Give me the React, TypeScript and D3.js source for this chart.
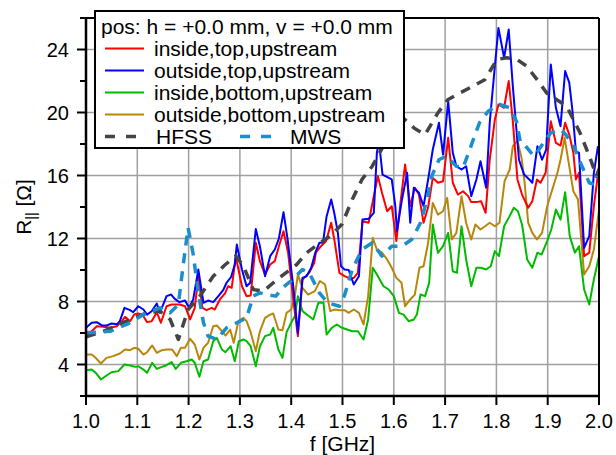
import React from 'react';
import * as d3 from 'd3';

const W = 616;
const H = 455;
const M = { left: 86, right: 17, top: 18, bottom: 59 };

const xTicks = [1.0, 1.1, 1.2, 1.3, 1.4, 1.5, 1.6, 1.7, 1.8, 1.9, 2.0];
const yMajor = [4, 8, 12, 16, 20, 24];
const yMinor = [2, 6, 10, 14, 18, 22, 26];

type P = [number, number];

const insideTop: P[] = [
  [1.000, 5.76], [1.011, 6.11], [1.021, 6.43], [1.034, 6.39], [1.047, 6.33], [1.060, 6.43], [1.070, 6.75],
  [1.076, 7.03], [1.086, 6.75], [1.094, 7.17], [1.102, 7.24], [1.112, 7.07], [1.119, 6.69], [1.128, 6.75],
  [1.138, 7.32], [1.146, 6.65], [1.157, 7.70], [1.167, 7.81], [1.183, 7.81], [1.193, 7.70], [1.203, 6.86],
  [1.212, 7.60], [1.219, 9.61], [1.227, 7.60], [1.235, 7.45], [1.245, 7.60], [1.251, 7.49], [1.261, 8.13],
  [1.271, 8.51], [1.277, 8.97], [1.284, 8.87], [1.292, 10.84], [1.304, 8.97], [1.313, 8.34], [1.321, 8.38],
  [1.331, 11.73], [1.339, 10.56], [1.349, 9.71], [1.359, 10.35], [1.368, 10.56], [1.376, 11.51], [1.385, 12.46],
  [1.394, 11.10], [1.404, 8.13], [1.413, 5.80], [1.422, 9.40], [1.435, 9.82], [1.445, 10.45], [1.448, 11.10],
  [1.458, 11.51], [1.468, 11.84], [1.478, 13.00], [1.484, 11.94], [1.494, 9.82], [1.504, 9.61], [1.512, 9.50],
  [1.522, 9.50], [1.530, 9.82], [1.539, 13.10], [1.551, 13.00], [1.561, 14.69], [1.569, 15.96], [1.577, 14.90],
  [1.587, 13.73], [1.596, 14.05], [1.605, 11.84], [1.613, 14.26], [1.622, 16.70], [1.632, 14.05], [1.641, 15.22],
  [1.649, 14.79], [1.658, 13.00], [1.667, 14.00], [1.676, 15.85], [1.686, 15.54], [1.696, 15.64], [1.706, 18.39],
  [1.715, 15.54], [1.725, 14.79], [1.735, 15.00], [1.745, 14.69], [1.751, 14.31], [1.761, 14.31], [1.770, 14.37],
  [1.779, 13.63], [1.787, 17.00], [1.797, 19.56], [1.804, 20.51], [1.815, 20.30], [1.824, 22.00], [1.832, 19.45],
  [1.841, 15.75], [1.850, 14.79], [1.862, 13.95], [1.870, 14.37], [1.879, 15.75], [1.886, 15.54], [1.896, 16.17],
  [1.906, 19.45], [1.916, 18.07], [1.925, 17.90], [1.934, 19.35], [1.942, 18.60], [1.950, 17.44], [1.955, 15.75],
  [1.961, 16.17], [1.971, 10.88], [1.981, 11.10], [1.990, 14.05], [2.000, 16.59],
];

const outsideTop: P[] = [
  [1.000, 6.33], [1.011, 6.65], [1.021, 6.69], [1.031, 6.48], [1.040, 6.48], [1.050, 6.60], [1.060, 6.55],
  [1.066, 6.75], [1.075, 7.60], [1.086, 7.45], [1.092, 7.32], [1.102, 7.70], [1.112, 7.49], [1.119, 7.17],
  [1.128, 7.38], [1.138, 7.87], [1.144, 7.28], [1.157, 8.34], [1.166, 8.44], [1.173, 8.17], [1.182, 7.96],
  [1.193, 8.06], [1.201, 7.60], [1.209, 8.13], [1.219, 10.03], [1.229, 7.92], [1.238, 8.06], [1.248, 7.96],
  [1.258, 8.34], [1.268, 8.76], [1.274, 9.19], [1.283, 9.57], [1.290, 10.35], [1.294, 11.62], [1.304, 10.03],
  [1.313, 8.97], [1.320, 9.19], [1.331, 12.60], [1.339, 11.51], [1.349, 9.61], [1.359, 10.88], [1.368, 11.30],
  [1.376, 12.00], [1.385, 13.67], [1.393, 11.94], [1.404, 8.97], [1.413, 6.00], [1.422, 9.50], [1.430, 9.60],
  [1.439, 10.14], [1.447, 11.10], [1.455, 11.73], [1.462, 11.75], [1.469, 13.40], [1.478, 14.48], [1.484, 13.60],
  [1.491, 12.36], [1.497, 10.24], [1.504, 10.03], [1.512, 10.00], [1.522, 9.08], [1.532, 9.60], [1.539, 13.20],
  [1.551, 13.25], [1.561, 13.63], [1.567, 17.44], [1.571, 18.20], [1.578, 16.06], [1.596, 15.75], [1.603, 14.05],
  [1.606, 12.46], [1.616, 14.48], [1.626, 16.17], [1.632, 13.00], [1.639, 15.22], [1.649, 14.90], [1.658, 14.05],
  [1.668, 15.96], [1.676, 17.65], [1.688, 19.35], [1.696, 17.33], [1.706, 20.72], [1.715, 17.44], [1.722, 16.59],
  [1.732, 16.38], [1.741, 16.59], [1.751, 14.69], [1.761, 15.75], [1.769, 16.91], [1.780, 15.22], [1.787, 19.35],
  [1.797, 22.94], [1.804, 25.37], [1.815, 23.47], [1.824, 25.27], [1.832, 21.67], [1.839, 18.92], [1.844, 17.00],
  [1.854, 16.06], [1.864, 15.75], [1.870, 15.54], [1.880, 17.86], [1.889, 17.00], [1.897, 17.65], [1.906, 23.05],
  [1.916, 20.30], [1.925, 19.13], [1.934, 22.63], [1.942, 21.90], [1.948, 20.19], [1.955, 17.54], [1.961, 17.44],
  [1.971, 11.40], [1.981, 12.15], [1.990, 16.17], [1.998, 17.86],
];

const insideBottom: P[] = [
  [1.000, 3.64], [1.011, 3.68], [1.019, 3.47], [1.029, 3.05], [1.040, 3.30], [1.050, 3.51], [1.063, 3.58],
  [1.075, 4.00], [1.086, 3.94], [1.096, 3.85], [1.102, 3.89], [1.112, 3.68], [1.119, 3.47], [1.129, 4.11],
  [1.138, 3.72], [1.148, 3.85], [1.156, 3.94], [1.167, 4.15], [1.175, 3.72], [1.185, 4.11], [1.196, 4.21],
  [1.206, 4.32], [1.212, 4.11], [1.221, 3.22], [1.229, 4.21], [1.238, 4.32], [1.248, 5.48], [1.255, 5.69],
  [1.265, 4.95], [1.272, 4.78], [1.282, 5.16], [1.290, 4.21], [1.298, 5.48], [1.307, 5.59], [1.313, 5.48],
  [1.321, 5.16], [1.331, 3.89], [1.339, 5.16], [1.349, 5.80], [1.359, 5.90], [1.365, 6.33], [1.375, 4.95],
  [1.383, 4.42], [1.391, 6.05], [1.400, 6.65], [1.407, 7.07], [1.413, 8.34], [1.422, 7.39], [1.433, 7.11],
  [1.443, 6.86], [1.453, 7.92], [1.463, 7.92], [1.469, 5.90], [1.479, 6.33], [1.489, 6.54], [1.499, 6.33],
  [1.509, 6.22], [1.519, 6.11], [1.530, 6.11], [1.541, 5.59], [1.550, 6.86], [1.559, 10.14], [1.569, 9.61],
  [1.580, 8.97], [1.590, 8.76], [1.600, 8.34], [1.610, 7.28], [1.619, 7.17], [1.629, 6.75], [1.639, 6.86],
  [1.645, 7.17], [1.652, 8.44], [1.661, 8.34], [1.669, 9.19], [1.676, 12.89], [1.686, 11.09], [1.696, 11.51],
  [1.706, 12.36], [1.715, 9.92], [1.723, 9.82], [1.732, 12.78], [1.741, 10.67], [1.751, 8.97], [1.761, 10.14],
  [1.770, 10.14], [1.780, 10.03], [1.789, 10.24], [1.797, 11.20], [1.805, 10.88], [1.815, 12.78], [1.824, 13.31],
  [1.834, 13.95], [1.842, 13.73], [1.850, 12.89], [1.860, 10.67], [1.870, 10.14], [1.880, 11.10], [1.888, 10.98],
  [1.899, 11.84], [1.907, 12.57], [1.916, 13.84], [1.925, 13.20], [1.934, 14.94], [1.943, 12.15], [1.953, 11.10],
  [1.961, 11.51], [1.971, 8.76], [1.981, 7.81], [1.990, 9.40], [2.000, 10.88],
];

const outsideBottom: P[] = [
  [1.000, 4.63], [1.011, 4.63], [1.017, 4.48], [1.029, 4.06], [1.040, 4.42], [1.053, 4.53], [1.066, 4.70],
  [1.076, 4.95], [1.086, 4.91], [1.094, 5.06], [1.102, 5.00], [1.112, 4.63], [1.119, 4.78], [1.129, 5.21],
  [1.138, 4.74], [1.148, 4.91], [1.157, 4.95], [1.168, 4.95], [1.177, 4.53], [1.185, 5.06], [1.193, 5.06],
  [1.203, 5.63], [1.212, 5.27], [1.221, 4.32], [1.229, 5.06], [1.238, 5.38], [1.248, 6.43], [1.255, 6.48],
  [1.265, 6.11], [1.272, 5.84], [1.281, 6.22], [1.288, 5.38], [1.297, 6.75], [1.307, 6.96], [1.313, 6.75],
  [1.321, 6.05], [1.331, 4.84], [1.339, 6.11], [1.349, 6.96], [1.359, 7.17], [1.365, 7.24], [1.375, 6.22],
  [1.383, 6.18], [1.391, 7.28], [1.400, 7.49], [1.407, 8.34], [1.413, 9.71], [1.422, 8.87], [1.433, 8.44],
  [1.446, 8.66], [1.456, 9.30], [1.466, 9.08], [1.476, 7.39], [1.485, 7.49], [1.494, 7.45], [1.504, 7.45],
  [1.512, 7.28], [1.522, 7.49], [1.532, 7.28], [1.541, 6.54], [1.550, 8.34], [1.559, 12.04], [1.567, 11.30],
  [1.577, 11.10], [1.587, 10.67], [1.596, 10.14], [1.605, 9.50], [1.615, 9.19], [1.622, 7.70], [1.632, 8.13],
  [1.641, 8.44], [1.650, 10.14], [1.658, 10.24], [1.667, 11.73], [1.676, 14.26], [1.686, 13.52], [1.696, 13.73],
  [1.704, 14.58], [1.713, 11.94], [1.722, 12.36], [1.732, 14.69], [1.741, 13.00], [1.751, 11.94], [1.759, 12.89],
  [1.769, 12.57], [1.778, 12.78], [1.787, 13.00], [1.797, 12.78], [1.806, 13.00], [1.816, 15.64], [1.826, 16.38],
  [1.832, 17.86], [1.841, 18.20], [1.849, 17.12], [1.855, 15.54], [1.862, 13.00], [1.870, 12.36], [1.879, 11.94],
  [1.889, 12.36], [1.899, 14.05], [1.909, 15.11], [1.919, 16.17], [1.925, 17.00], [1.933, 18.39], [1.942, 16.59],
  [1.950, 15.00], [1.959, 14.48], [1.971, 9.71], [1.981, 10.24], [1.990, 11.30], [2.000, 13.84],
];

const hfss: P[] = [
  [1.000, 5.76], [1.034, 6.11], [1.079, 6.75], [1.118, 7.28], [1.144, 7.39], [1.164, 6.86], [1.180, 5.59],
  [1.199, 7.49], [1.222, 8.34], [1.248, 9.60], [1.270, 10.30], [1.292, 10.90], [1.307, 10.24], [1.326, 8.76],
  [1.346, 8.66], [1.365, 9.19], [1.385, 9.71], [1.411, 10.35], [1.430, 11.09], [1.456, 11.73], [1.476, 12.15],
  [1.499, 12.90], [1.519, 14.48], [1.538, 15.75], [1.558, 16.59], [1.575, 17.60], [1.595, 18.80], [1.620, 19.60],
  [1.640, 19.00], [1.661, 18.60], [1.686, 19.98], [1.706, 20.83], [1.729, 21.24], [1.754, 21.67], [1.778, 22.10],
  [1.801, 23.37], [1.820, 23.47], [1.840, 23.37], [1.859, 22.94], [1.879, 22.10], [1.898, 21.24], [1.917, 20.83],
  [1.937, 20.40], [1.950, 19.56], [1.963, 18.71], [1.976, 17.65], [1.986, 16.80], [1.995, 15.96], [2.000, 16.40],
];

const mws: P[] = [
  [1.000, 6.01], [1.047, 6.11], [1.079, 6.54], [1.112, 7.17], [1.144, 7.60], [1.164, 7.28], [1.180, 7.81],
  [1.190, 10.45], [1.199, 12.68], [1.209, 11.00], [1.219, 8.55], [1.229, 6.65], [1.238, 5.80], [1.255, 5.59],
  [1.274, 6.33], [1.294, 6.65], [1.313, 6.96], [1.326, 8.34], [1.339, 8.55], [1.351, 8.44], [1.370, 8.34],
  [1.383, 8.87], [1.403, 9.40], [1.422, 10.03], [1.435, 9.82], [1.455, 8.55], [1.471, 7.92], [1.494, 7.70],
  [1.504, 8.40], [1.519, 10.03], [1.538, 11.30], [1.558, 11.73], [1.577, 10.88], [1.596, 11.51], [1.616, 11.51],
  [1.635, 11.94], [1.652, 13.00], [1.665, 14.48], [1.674, 15.96], [1.688, 17.00], [1.702, 17.23], [1.722, 16.59],
  [1.735, 16.49], [1.748, 17.65], [1.767, 19.35], [1.784, 20.08], [1.806, 20.51], [1.826, 20.30], [1.839, 19.45],
  [1.847, 18.07], [1.857, 17.86], [1.873, 17.23], [1.883, 17.65], [1.896, 18.29], [1.906, 18.71], [1.925, 18.92],
  [1.935, 18.60], [1.951, 17.86], [1.964, 16.80], [1.981, 15.54], [1.990, 15.43], [1.997, 15.96],
];

const FONT = '"Liberation Sans", Arial, Helvetica, sans-serif';

const series = [
  { name: 'inside,top,upstream', data: insideTop, color: '#ff0000', dash: null as string | null, width: 2 },
  { name: 'outside,top,upstream', data: outsideTop, color: '#0000ff', dash: null, width: 2 },
  { name: 'inside,bottom,upstream', data: insideBottom, color: '#00bb00', dash: null, width: 2 },
  { name: 'outside,bottom,upstream', data: outsideBottom, color: '#b8860b', dash: null, width: 2 },
  { name: 'HFSS', data: hfss, color: '#444444', dash: '10,8', width: 3.5 },
  { name: 'MWS', data: mws, color: '#1a8fcc', dash: '10,8', width: 3.5 },
];

export default function App() {
  const x = d3.scaleLinear().domain([1, 2]).range([M.left, W - M.right]);
  const y = d3.scaleLinear().domain([2, 26]).range([H - M.bottom, M.top]);
  const line = d3.line<P>().x((d) => x(d[0])).y((d) => y(d[1]));
  const x0 = x(1), x1 = x(2), y0 = y(2), y1 = y(26);
  const drawOrder = [2, 3, 0, 1, 4, 5];

  const legX = 95, legY = 11, legW = 309, legH = 137;
  const rowY = [48.5, 70.5, 92.5, 114.5, 136.5];

  return (
    <svg width={W} height={H} style={{ position: 'absolute', left: 0, top: 0, background: '#fff' }}
      fontFamily={FONT}>
      <defs>
        <clipPath id="plot">
          <rect x={x0} y={y1} width={x1 - x0} height={y0 - y1} />
        </clipPath>
      </defs>
      <rect x={0} y={0} width={W} height={H} fill="#fff" />
      {/* grid */}
      {xTicks.slice(1, -1).map((t) => (
        <line key={'gx' + t} x1={x(t)} x2={x(t)} y1={y0} y2={y1} stroke="#a0a0a0" strokeWidth={1.5} />
      ))}
      {yMajor.map((t) => (
        <line key={'gy' + t} x1={x0} x2={x1} y1={y(t)} y2={y(t)} stroke="#a0a0a0" strokeWidth={1.5} />
      ))}
      {/* data */}
      <g clipPath="url(#plot)">
        {drawOrder.map((i) => {
          const s = series[i];
          return (
            <path key={s.name} d={line(s.data) || ''} fill="none" stroke={s.color} strokeWidth={s.width}
              strokeDasharray={s.dash || undefined} strokeLinejoin="round" />
          );
        })}
      </g>
      {/* frame */}
      <line x1={x0} x2={x1} y1={y1} y2={y1} stroke="#000" strokeWidth={2} />
      <line x1={x1} x2={x1} y1={y1} y2={y0} stroke="#000" strokeWidth={2} />
      <line x1={x0} x2={x0} y1={y1 - 1} y2={y0 + 1} stroke="#000" strokeWidth={2.5} />
      <line x1={x0 - 1} x2={x1 + 1} y1={y0} y2={y0} stroke="#000" strokeWidth={2.5} />
      {/* x ticks */}
      {xTicks.map((t) => (
        <g key={'xt' + t}>
          <line x1={x(t)} x2={x(t)} y1={y0} y2={y0 + 9} stroke="#000" strokeWidth={2} />
          <text x={x(t)} y={428} textAnchor="middle" fontSize={20} fill="#000">{t.toFixed(1)}</text>
        </g>
      ))}
      {/* y ticks */}
      {yMajor.map((t) => (
        <g key={'yt' + t}>
          <line x1={x0 - 9} x2={x0} y1={y(t)} y2={y(t)} stroke="#000" strokeWidth={2} />
          <text x={69} y={y(t) + 7} textAnchor="end" fontSize={20} fill="#000">{t}</text>
        </g>
      ))}
      {yMinor.map((t) => (
        <line key={'ym' + t} x1={x0 - 6} x2={x0} y1={y(t)} y2={y(t)} stroke="#000" strokeWidth={2} />
      ))}
      {/* axis labels */}
      <text x={(x0 + x1) / 2} y={451} textAnchor="middle" fontSize={21} fill="#000">f [GHz]</text>
      <text transform={`translate(31,${(y0 + y1) / 2}) rotate(-90)`} textAnchor="middle" fontSize={21} fill="#000">
        R<tspan fontSize={14} dy={5}>||</tspan><tspan dy={-5}> [Ω]</tspan>
      </text>
      {/* legend */}
      <rect x={legX} y={legY} width={legW} height={legH} fill="#fff" stroke="#000" strokeWidth={2} />
      <text x={101} y={34} fontSize={21} fill="#000">pos: h = +0.0 mm, v = +0.0 mm</text>
      {series.slice(0, 4).map((s, i) => (
        <g key={'lg' + s.name}>
          <line x1={105} x2={144} y1={rowY[i]} y2={rowY[i]} stroke={s.color} strokeWidth={2} />
          <text x={154} y={rowY[i] + 7.5} fontSize={21} fill="#000">{s.name}</text>
        </g>
      ))}
      <line x1={105} x2={137} y1={rowY[4]} y2={rowY[4]} stroke={series[4].color} strokeWidth={3.5} strokeDasharray="10,11" />
      <text x={156} y={rowY[4] + 7.5} fontSize={21} fill="#000">HFSS</text>
      <line x1={240} x2={272} y1={rowY[4]} y2={rowY[4]} stroke={series[5].color} strokeWidth={3.5} strokeDasharray="10,11" />
      <text x={290} y={rowY[4] + 7.5} fontSize={21} fill="#000">MWS</text>
    </svg>
  );
}
